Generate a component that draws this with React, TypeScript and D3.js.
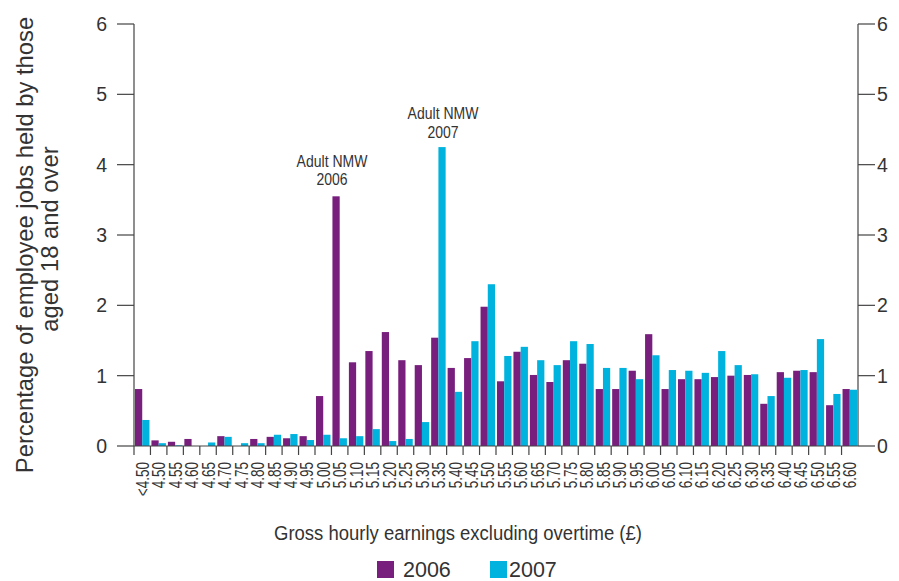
import React from "react";
import * as d3 from "d3";

const categories = ["<4.50","4.50","4.55","4.60","4.65","4.70","4.75","4.80","4.85","4.90","4.95","5.00","5.05","5.10","5.15","5.20","5.25","5.30","5.35","5.40","5.45","5.50","5.55","5.60","5.65","5.70","5.75","5.80","5.85","5.90","5.95","6.00","6.05","6.10","6.15","6.20","6.25","6.30","6.35","6.40","6.45","6.50","6.55","6.60"];
const values2006 = [0.81,0.08,0.06,0.1,0,0.14,0,0.1,0.13,0.11,0.14,0.71,3.55,1.19,1.35,1.62,1.22,1.15,1.54,1.11,1.25,1.98,0.92,1.34,1.01,0.91,1.22,1.17,0.81,0.81,1.07,1.59,0.81,0.95,0.95,0.98,1.0,1.01,0.6,1.05,1.07,1.05,0.58,0.81];
const values2007 = [0.37,0.04,0.01,0,0.05,0.13,0.04,0.04,0.16,0.17,0.085,0.16,0.11,0.14,0.24,0.07,0.1,0.34,4.25,0.77,1.49,2.3,1.28,1.41,1.22,1.15,1.49,1.45,1.11,1.11,0.95,1.29,1.08,1.07,1.04,1.35,1.15,1.02,0.71,0.97,1.08,1.52,0.74,0.8];
const yTicks = [0,1,2,3,4,5,6];
const seriesNames = ["2006","2007"];
const colors = ["#781e7d","#00b3de"];

const W = 899, H = 581;
const left = 134, right = 858, top = 24, bottom = 446;
const FONT = "'Liberation Sans', Arial, sans-serif";
const TXT = "#333";
const AX = "#444";

export default function App() {
  const x = d3.scaleBand<string>().domain(categories).range([left, right]).paddingInner(0).paddingOuter(0);
  const y = d3.scaleLinear().domain([0, 6]).range([bottom, top]);
  const bw = x.bandwidth();
  const barW = bw * 0.44;
  const off = bw * 0.06;
  const series = [values2006, values2007];
  const legendX = [377, 490];
  const legendTextX = [403, 509];

  return (
    <svg width={W} height={H} style={{ position: "absolute", left: 0, top: 0 }} fontFamily={FONT}>
      <rect width={W} height={H} fill="#fff" />
      {series.map((vals, si) =>
        vals.map((v, i) => v > 0 ? (
          <rect key={si + "-" + i}
            x={(x(categories[i]) as number) + off + si * barW}
            y={y(v)}
            width={barW}
            height={y(0) - y(v)}
            fill={colors[si]} />
        ) : null)
      )}
      {/* left axis */}
      <line x1={left} x2={left} y1={top} y2={bottom} stroke={AX} strokeWidth={1.2} />
      {yTicks.map(t => (
        <g key={"l" + t}>
          <line x1={left - 17} x2={left} y1={y(t)} y2={y(t)} stroke={AX} strokeWidth={1.2} />
          <text x={107} y={y(t)} dy="0.36em" textAnchor="end" fontSize={19.5} fill={TXT}>{t}</text>
        </g>
      ))}
      {/* right axis */}
      <line x1={right} x2={right} y1={top} y2={bottom} stroke={AX} strokeWidth={1.2} />
      {yTicks.map(t => (
        <g key={"r" + t}>
          <line x1={right} x2={right + 17} y1={y(t)} y2={y(t)} stroke={AX} strokeWidth={1.2} />
          <text x={right + 19} y={y(t)} dy="0.36em" textAnchor="start" fontSize={19.5} fill={TXT}>{t}</text>
        </g>
      ))}
      {/* x axis */}
      <line x1={left} x2={right} y1={bottom} y2={bottom} stroke={AX} strokeWidth={1.2} />
      {categories.map((c, i) => (
        <line key={"xt" + i} x1={x(c) as number} x2={x(c) as number} y1={bottom} y2={bottom + 9} stroke={AX} strokeWidth={1.2} />
      ))}
      {categories.map((c, i) => {
        const cx = (x(c) as number) + bw / 2 + 0.5;
        const ty = 462;
        return (
          <text key={"xl" + i} transform={`translate(${cx},${ty}) rotate(-90) scale(1,1.3)`} textAnchor="end" dy="0.35em" fontSize={13.5} fill={TXT}>{c}</text>
        );
      })}
      {/* annotations */}
      <g fontSize={14} fill={TXT} textAnchor="middle">
        <text transform="translate(332,167) scale(1,1.12)">Adult NMW</text>
        <text transform="translate(332,185) scale(1,1.12)">2006</text>
        <text transform="translate(443,118.5) scale(1,1.12)">Adult NMW</text>
        <text transform="translate(443,137.5) scale(1,1.12)">2007</text>
      </g>
      {/* y title */}
      <text transform={`translate(33,245) rotate(-90)`} textAnchor="middle" fontSize={23.8} fill={TXT}>Percentage of employee jobs held by those</text>
      <text transform={`translate(58,239) rotate(-90)`} textAnchor="middle" fontSize={23.8} fill={TXT}>aged 18 and over</text>
      {/* x title */}
      <text transform="translate(458,540) scale(1,1.1)" textAnchor="middle" fontSize={18.5} fill={TXT}>Gross hourly earnings excluding overtime (£)</text>
      {/* legend */}
      {seriesNames.map((s, i) => (
        <g key={"lg" + i}>
          <rect x={legendX[i]} y={561} width={17} height={17} fill={colors[i]} />
          <text x={legendTextX[i]} y={577} fontSize={21.5} fill={TXT}>{s}</text>
        </g>
      ))}
    </svg>
  );
}
